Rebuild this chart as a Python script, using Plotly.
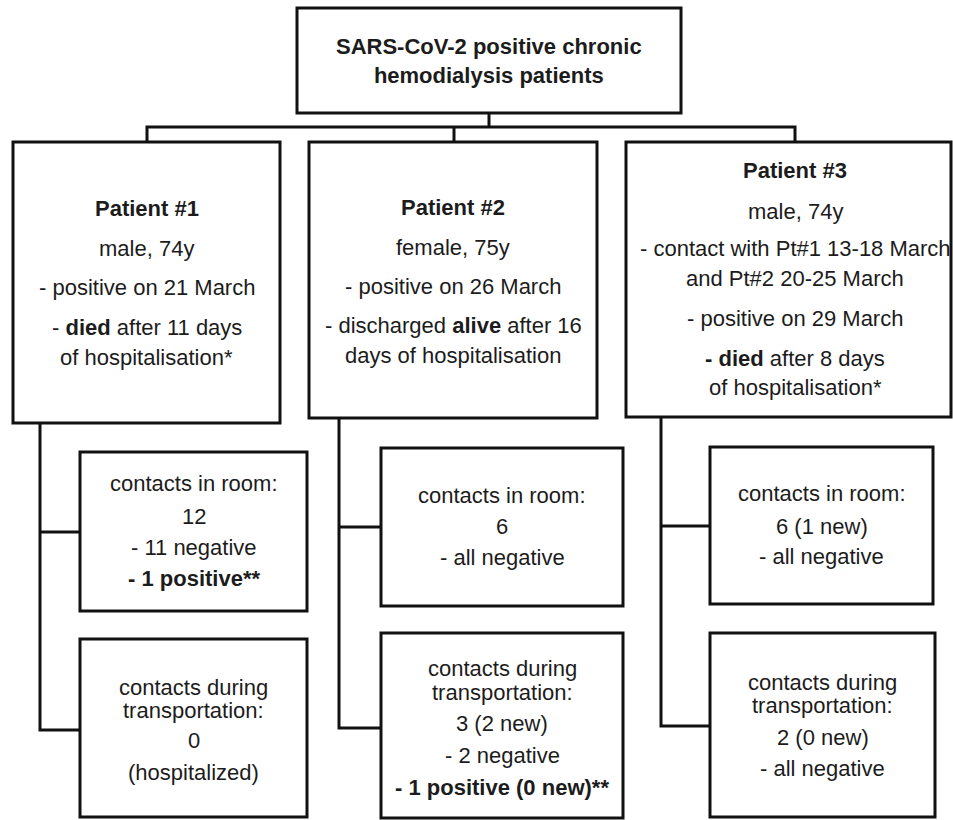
import plotly.graph_objects as go

# ---------------- data: text of each box ----------------
title_lines = ["<b>SARS-CoV-2 positive chronic</b>", "<b>hemodialysis patients</b>"]

patient1_lines = ["<b>Patient #1</b>", "male, 74y", "- positive on 21 March",
                  "- <b>died</b> after 11 days", "of hospitalisation*"]
patient2_lines = ["<b>Patient #2</b>", "female, 75y", "- positive on 26 March",
                  "- discharged <b>alive</b> after 16", "days of hospitalisation"]
patient3_lines = ["<b>Patient #3</b>", "male, 74y", "- contact with Pt#1 13-18 March",
                  "and Pt#2 20-25 March", "- positive on 29 March",
                  "<b>- died</b> after 8 days", "of hospitalisation*"]

room1_lines = ["contacts in room:", "12", "- 11 negative", "<b>- 1 positive**</b>"]
room2_lines = ["contacts in room:", "6", "- all negative"]
room3_lines = ["contacts in room:", "6 (1 new)", "- all negative"]

trans1_lines = ["contacts during", "transportation:", "0", "(hospitalized)"]
trans2_lines = ["contacts during", "transportation:", "3 (2 new)", "- 2 negative",
                "<b>- 1 positive (0 new)**</b>"]
trans3_lines = ["contacts during", "transportation:", "2 (0 new)", "- all negative"]

# ---------------- layout (pixel coordinates of the 953x820 page) ----------------
W, H = 953, 820

boxes = [
    # (lines, x0, y0, x1, y1, text center x, line y centers; one y = joined with <br>)
    (title_lines, 297, 8, 681, 113, 489, [61]),
    (patient1_lines, 13, 142, 280, 423, 146.5, [208, 248, 287, 327, 357]),
    (patient2_lines, 309, 142, 597, 418, 453, [207, 247, 286, 325, 355]),
    (patient3_lines, 626, 142, 951, 417, 795, [170, 211, 248, 278, 318, 358, 387]),
    (room1_lines, 80, 452, 307, 611, 193.5, [483, 516, 547, 578]),
    (room2_lines, 381, 448, 623, 606, 502, [495, 526, 557]),
    (room3_lines, 710, 447, 933, 604, 821.5, [493, 526, 556]),
    (trans1_lines, 80, 639, 307, 817, 193.5, [687, 710, 740, 772]),
    (trans2_lines, 381, 633, 623, 818, 502, [668, 692, 723, 755, 787]),
    (trans3_lines, 710, 633, 935, 817, 822.5, [682, 705, 737, 768]),
]

connectors = [
    "M 489 113 L 489 127",
    "M 147 142 L 147 127 L 795 127 L 795 142",
    "M 454 127 L 454 142",
    "M 40 423 L 40 730 L 80 730", "M 40 532 L 80 532",
    "M 339 418 L 339 728 L 381 728", "M 339 527 L 381 527",
    "M 661 417 L 661 726 L 710 726", "M 661 526 L 710 526",
]

LINE = dict(color="#111111", width=3)
FONT = dict(family="Liberation Sans, Arial, sans-serif", size=22, color="#1c1c1c")

fig = go.Figure()
fig.add_trace(go.Scatter(x=[0, W], y=[0, H], mode="markers",
                         marker=dict(opacity=0), hoverinfo="skip", showlegend=False))

shapes = []
annotations = []
for lines, x0, y0, x1, y1, cx, ys in boxes:
    shapes.append(dict(type="rect", xref="x", yref="y", x0=x0, y0=y0, x1=x1, y1=y1,
                       line=LINE, fillcolor="rgba(0,0,0,0)", layer="above"))
    if len(ys) == 1 and len(lines) > 1:
        groups = [("<br>".join(lines), ys[0])]
    else:
        groups = list(zip(lines, ys))
    for txt, yy in groups:
        annotations.append(dict(x=cx, y=yy, xref="x", yref="y", text=txt,
                                showarrow=False, xanchor="center", yanchor="middle",
                                font=FONT))
for p in connectors:
    shapes.append(dict(type="path", xref="x", yref="y", path=p, line=LINE))

fig.update_layout(
    width=W, height=H,
    margin=dict(l=0, r=0, t=0, b=0),
    paper_bgcolor="white", plot_bgcolor="white",
    xaxis=dict(range=[0, W], visible=False, fixedrange=True),
    yaxis=dict(range=[H, 0], visible=False, fixedrange=True),
    shapes=shapes, annotations=annotations,
    hovermode=False,
)

fig.write_html(
    "out.html",
    config={"displayModeBar": False, "staticPlot": True},
    post_script="document.body.style.margin='0';document.body.style.overflow='hidden';",
)
